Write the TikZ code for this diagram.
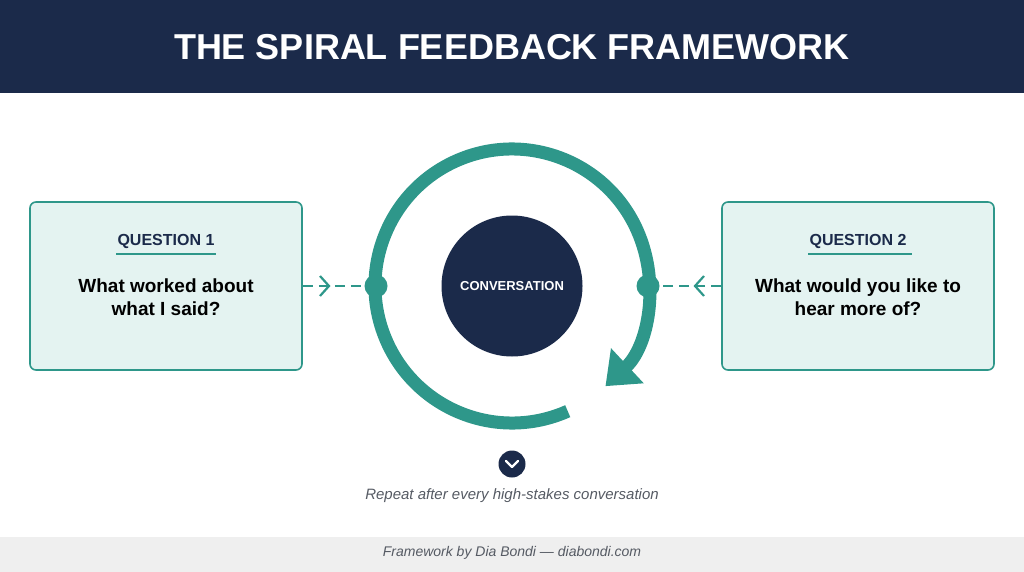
\documentclass[tikz,border=0pt]{standalone}
\usepackage{fontspec}
\setmainfont{Liberation Sans}
\usetikzlibrary{positioning, arrows.meta, decorations.markings}
\definecolor{navy}{HTML}{1B2A4A}
\definecolor{teal}{HTML}{2E978A}
\definecolor{paleteal}{HTML}{E4F3F1}
\definecolor{footgray}{HTML}{EFEFEF}
\definecolor{captgray}{HTML}{555A63}

\begin{document}
\begin{tikzpicture}[x=1pt, y=1pt,
    qbox/.style = {draw=teal, line width=1.6pt, fill=paleteal, rounded corners=6pt,
                   minimum width=272pt, minimum height=168pt},
    qhead/.style = {text=navy, font=\fontsize{16}{18}\selectfont\bfseries},
    qtext/.style = {align=center, font=\fontsize{19}{23}\selectfont\bfseries},
    dot/.style = {circle, fill=teal, minimum size=23pt, inner sep=0pt},
    link/.style = {teal, line width=1.6pt, dash pattern=on 10pt off 6pt,
                   postaction={decorate, decoration={markings,
                   mark=at position #1 with {\arrow[solid]{Straight Barb[length=9pt, width=20pt, line width=2.2pt]}}}}}]
    \useasboundingbox (0,0) rectangle (1024,-572);
    % bands
    \fill[navy] (0,0) rectangle (1024,-93);
    \fill[footgray] (0,-537) rectangle (1024,-572);
    \node[text=white, font=\fontsize{36}{40}\selectfont\bfseries] (title) at (512,-47) {THE SPIRAL FEEDBACK FRAMEWORK};

    % questions
    \node[qbox] (q1) at (166,-286) {};
    \node[qbox] (q2) at (858,-286) {};
    \node[qhead] (h1) at (166,-241) {QUESTION 1};
    \node[qhead] (h2) at (858,-241) {QUESTION 2};
    \draw[teal, line width=2pt] (h1.south west) ++(2pt,-2pt) -- ++(100pt,0);
    \draw[teal, line width=2pt] (h2.south west) ++(2pt,-2pt) -- ++(104pt,0);
    \node[qtext] (t1) at (166,-297) {What worked about\\what I said?};
    \node[qtext] (t2) at (858,-297) {What would you like to\\hear more of?};

    % cycle
    \draw[teal, line width=13pt, -{Triangle[length=30pt, width=46pt]}]
        (512,-286) ++(-66:137) arc[start angle=-66, end angle=-407, radius=137];
    \node[circle, fill=navy, minimum size=141pt, inner sep=0pt, text=white,
          font=\fontsize{13}{15}\selectfont\bfseries] (conv) at (512,-286) {CONVERSATION};
    \node[dot] (dotL) at (376,-286) {};
    \node[dot] (dotR) at (648,-286) {};
    \draw[link=0.45] (q1.east) -- (dotL);
    \draw[link=0.45] (q2.west) -- (dotR);

    % repeat
    \node[circle, fill=navy, minimum size=27pt, inner sep=0pt] (rep) at (512,-464) {};
    \draw[white, line width=2.2pt, line cap=round, line join=round]
        ([shift={(-6pt,3pt)}]rep.center) -- ([shift={(0,-3pt)}]rep.center) -- ([shift={(6pt,3pt)}]rep.center);
    \node[text=captgray, font=\fontsize{15}{17}\selectfont\itshape] (capt) at (512,-496)
        {Repeat after every high-stakes conversation};
    \node[text=captgray, font=\fontsize{14}{16}\selectfont\itshape] (foot) at (512,-553)
        {Framework by Dia Bondi — diabondi.com};
\end{tikzpicture}
\end{document}
